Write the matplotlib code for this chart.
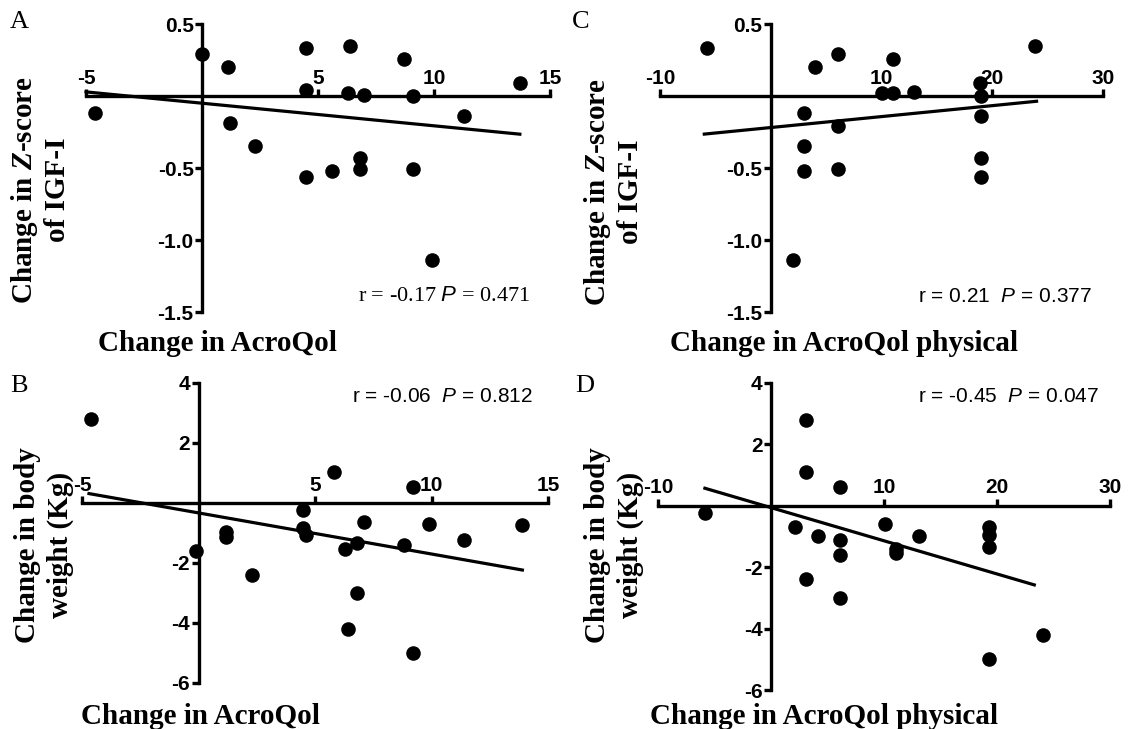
import numpy as np
import matplotlib.pyplot as plt

plt.rcParams['axes.unicode_minus'] = False

# panel A : change in AcroQol vs change in Z-score of IGF-I
a_x = [-4.6, 0.0, 1.1, 1.2, 2.3, 4.5, 4.5, 4.5, 5.6, 6.4, 6.3, 6.8, 6.8, 7.0, 8.7, 9.1, 9.1, 9.9, 11.3, 13.7]
a_y = [-0.12, 0.29, 0.20, -0.19, -0.35, 0.33, 0.04, -0.56, -0.52, 0.35, 0.02, -0.43, -0.51, 0.01, 0.26, 0.0, -0.51, -1.14, -0.14, 0.09]
a_fit = (-0.0157, -0.05)   # slope, intercept
a_rng = (-5.0, 13.7)

# panel C : change in AcroQol physical vs change in Z-score of IGF-I
c_x = [-5.8, 4.0, 3.0, 3.0, 3.0, 2.0, 6.1, 6.1, 6.1, 11.0, 10.0, 11.0, 12.9, 18.9, 19.0, 19.0, 19.0, 19.0, 23.9]
c_y = [0.33, 0.20, -0.12, -0.35, -0.52, -1.14, 0.29, -0.21, -0.51, 0.26, 0.02, 0.02, 0.03, 0.09, 0.0, -0.14, -0.43, -0.56, 0.35]
c_fit = (0.0076, -0.219)
c_rng = (-6.0, 24.0)

# panel B : change in AcroQol vs change in body weight
b_x = [-4.6, -0.1, 1.2, 1.2, 2.3, 4.5, 4.5, 4.6, 5.8, 6.3, 6.4, 6.8, 6.8, 7.1, 8.8, 9.2, 9.2, 9.9, 11.4, 13.9]
b_y = [2.8, -1.6, -0.96, -1.14, -2.4, -0.24, -0.83, -1.05, 1.05, -1.52, -4.2, -1.33, -3.0, -0.63, -1.4, 0.55, -5.0, -0.70, -1.22, -0.72]
b_fit = (-0.137, -0.33)
b_rng = (-4.7, 13.9)

# panel D : change in AcroQol physical vs change in body weight
d_x = [-5.8, 3.1, 3.1, 3.1, 2.1, 4.2, 6.1, 6.1, 6.1, 6.1, 10.1, 11.1, 11.1, 13.1, 19.3, 19.3, 19.3, 19.3, 24.1]
d_y = [-0.24, 2.8, 1.09, -2.4, -0.70, -0.98, 0.6, -1.11, -1.6, -3.0, -0.6, -1.41, -1.54, -0.98, -0.70, -0.95, -1.33, -5.0, -4.2]
d_fit = (-0.108, -0.06)
d_rng = (-5.85, 23.3)

W, H = 1136, 729
fig = plt.figure(figsize=(W / 100, H / 100), dpi=100)

SERIF = 'Liberation Serif'
SANS = 'Liberation Sans'


def add_panel(x0, x1, ytop, ybot, xlim, ylim, xt, yt, yfmt):
    ax = fig.add_axes([x0 / W, 1 - ybot / H, (x1 - x0) / W, (ybot - ytop) / H])
    ax.set_xlim(xlim)
    ax.set_ylim(ylim)
    ax.patch.set_alpha(0)
    ax.spines['right'].set_visible(False)
    ax.spines['bottom'].set_visible(False)
    ax.spines['left'].set_position(('data', 0))
    ax.spines['top'].set_position(('data', 0))
    for s in ('left', 'top'):
        ax.spines[s].set_linewidth(2.4)
    ax.xaxis.tick_top()
    ax.set_xticks(xt)
    ax.set_xticklabels([str(v) for v in xt])
    ax.set_yticks(yt)
    ax.set_yticklabels([yfmt % v for v in yt])
    ax.tick_params(width=2.4, length=5, direction='out', pad=1)
    for lab in ax.get_xticklabels() + ax.get_yticklabels():
        lab.set_fontfamily(SANS)
        lab.set_fontweight('bold')
        lab.set_fontsize(15)
    return ax


def draw(ax, x, y, fit, rng):
    ax.scatter(x, y, s=110, color='black', zorder=3, clip_on=False, linewidths=0)
    xs = np.array(rng)
    ax.plot(xs, fit[0] * xs + fit[1], color='black', lw=2.3, zorder=2, clip_on=False)


axA = add_panel(86, 550, 24, 312, (-5, 15), (-1.5, 0.5), [-5, 5, 10, 15], [0.5, -0.5, -1.0, -1.5], '%.1f')
draw(axA, a_x, a_y, a_fit, a_rng)
axC = add_panel(660, 1103, 24, 312, (-10, 30), (-1.5, 0.5), [-10, 10, 20, 30], [0.5, -0.5, -1.0, -1.5], '%.1f')
draw(axC, c_x, c_y, c_fit, c_rng)
axB = add_panel(82, 548, 383, 683, (-5, 15), (-6, 4), [-5, 5, 10, 15], [4, 2, -2, -4, -6], '%d')
draw(axB, b_x, b_y, b_fit, b_rng)
axD = add_panel(658, 1110, 383, 690, (-10, 30), (-6, 4), [-10, 10, 20, 30], [4, 2, -2, -4, -6], '%d')
draw(axD, d_x, d_y, d_fit, d_rng)

# panel letters
for lx, ly, t in [(10, 22, 'A'), (572, 22, 'C'), (10, 386, 'B'), (575, 386, 'D')]:
    fig.text(lx / W, 1 - ly / H, t, family=SERIF, fontsize=19, va='center', ha='left')

# axis labels
lab = dict(family=SERIF, fontweight='bold', fontsize=21)
fig.text(217 / W, 1 - 343 / H, 'Change in AcroQol', ha='center', va='center', **lab)
fig.text(844 / W, 1 - 343 / H, 'Change in AcroQol physical', ha='center', va='center', **lab)
fig.text(200 / W, 1 - 716 / H, 'Change in AcroQol', ha='center', va='center', **lab)
fig.text(824 / W, 1 - 716 / H, 'Change in AcroQol physical', ha='center', va='center', **lab)

zlab = 'Change in $\\mathbfit{Z}$-score\nof IGF-I'
plt.rcParams['mathtext.fontset'] = 'custom'
plt.rcParams['mathtext.bfit'] = 'Liberation Serif:bold:italic'
fig.text(40 / W, 1 - 190 / H, zlab, rotation=90, ha='center', va='center', multialignment='center', linespacing=1.2, **lab)
fig.text(613 / W, 1 - 192 / H, zlab, rotation=90, ha='center', va='center', multialignment='center', linespacing=1.2, **lab)
fig.text(44 / W, 1 - 545 / H, 'Change in body\nweight (Kg)', rotation=90, ha='center', va='center', multialignment='center', linespacing=1.25, **lab)
fig.text(614 / W, 1 - 545 / H, 'Change in body\nweight (Kg)', rotation=90, ha='center', va='center', multialignment='center', linespacing=1.25, **lab)

# statistics
fig.text(358 / W, 1 - 296 / H, 'r = -0.17 $\\mathit{P}$ = 0.471', family=SERIF, fontsize=16, va='center')
plt.rcParams['mathtext.it'] = 'Liberation Sans:italic'
fig.text(918 / W, 1 - 296 / H, 'r = 0.21  $P$ = 0.377', family=SANS, fontsize=15, va='center')
fig.text(352 / W, 1 - 396 / H, 'r = -0.06  $P$ = 0.812', family=SANS, fontsize=15, va='center')
fig.text(918 / W, 1 - 396 / H, 'r = -0.45  $P$ = 0.047', family=SANS, fontsize=15, va='center')

fig.savefig('out.png', dpi=100)
